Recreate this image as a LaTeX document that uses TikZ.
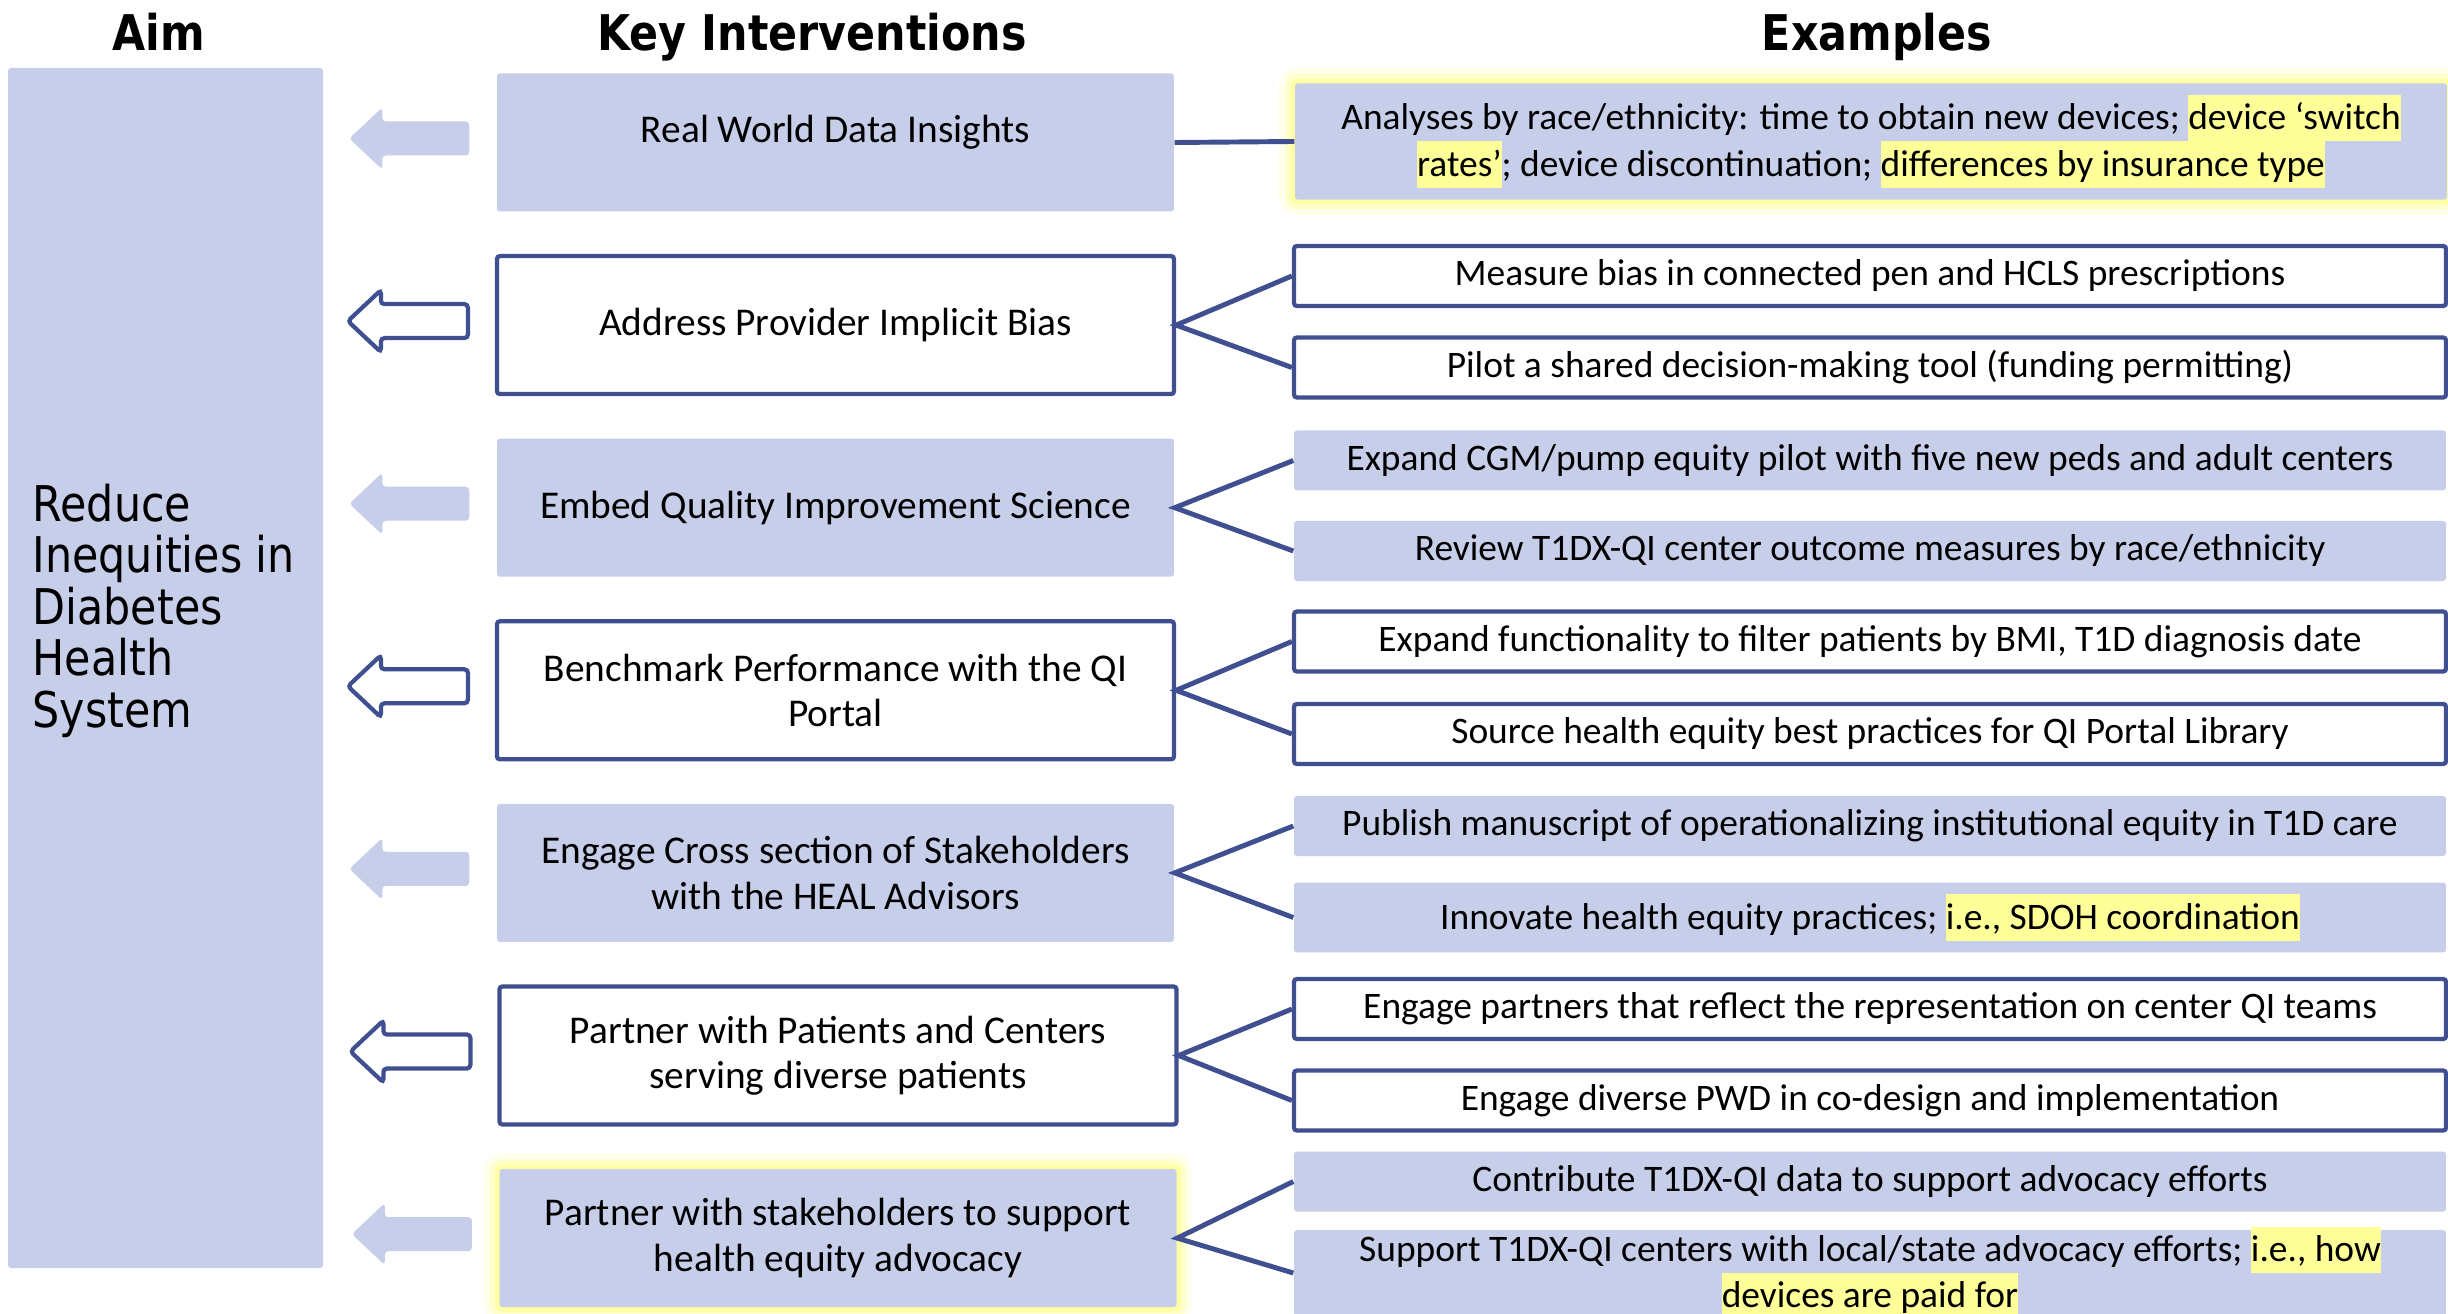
\documentclass[tikz,border=0pt]{standalone}
\usepackage{fontspec}
\setmainfont{Carlito}
\newfontfamily\titulofont[FakeStretch=0.87]{DejaVu Sans}
\newfontfamily\metafont[FakeStretch=0.87]{DejaVu Sans}
\usetikzlibrary{positioning,calc}
\definecolor{lavanda}{HTML}{C7CEEA}
\definecolor{azulmarino}{HTML}{3F4F8F}
\definecolor{amarillo}{HTML}{FFFF99}
% resaltado de texto, alto de una linea
\newcommand{\resaltar}[1]{{\setlength{\fboxsep}{0pt}\colorbox{amarillo}{\rule[-3.3pt]{0pt}{13.2pt}#1}}}

\begin{document}
\begin{tikzpicture}[
  titulo/.style={font=\titulofont\bfseries\fontsize{14}{16}\selectfont,anchor=base},
  caja/.style={align=center,rounded corners=0.8pt},
  interv/.style={caja,minimum width=6.77cm,minimum height=1.38cm,font=\fontsize{11.2}{12.9}\selectfont},
  ejemplo/.style={caja,minimum width=11.52cm,minimum height=0.6cm,font=\fontsize{10.65}{13.2}\selectfont},
  lleno/.style={fill=lavanda},
  marco/.style={draw=azulmarino,line width=1.2pt,fill=white},
  brillo/.style={preaction={draw=amarillo,line width=9pt,opacity=.2},
    preaction={draw=amarillo,line width=5.5pt,opacity=.4},
    preaction={draw=amarillo,line width=2.5pt,opacity=.8}},
  flechallena/.style={fill=lavanda,rounded corners=1pt},
  flechamarco/.style={draw=azulmarino,line width=1.2pt,fill=white,rounded corners=1pt},
  enlace/.style={draw=azulmarino,line width=1.4pt}]
  \useasboundingbox (0,0) rectangle (24.48,-13.14);

  % encabezados
  \node[titulo] (tmeta) at (1.59,-0.51) {Aim};
  \node[titulo] (tint) at (8.12,-0.51) {Key Interventions};
  \node[titulo] (tej) at (18.77,-0.51) {Examples};

  % columna del objetivo
  \node[fill=lavanda,rounded corners=0.8pt,minimum width=3.15cm,minimum height=12cm] (meta) at (1.655,-6.68) {};
  \node[anchor=north west,inner sep=0pt,align=left,font=\metafont\fontsize{14}{14.65}\selectfont] (metatexto) at (0.32,-4.83)
    {Reduce\\Inequities in\\Diabetes\\Health\\System};

  % intervenciones
  \node[interv,lleno,text depth=8pt] (int1) at (8.355,-1.425) {Real World Data Insights};
  \node[interv,marco] (int2) at (8.355,-3.251) {Address Provider Implicit Bias};
  \node[interv,lleno] (int3) at (8.355,-5.077) {Embed Quality Improvement Science};
  \node[interv,marco] (int4) at (8.355,-6.903) {Benchmark Performance with the QI\\Portal};
  \node[interv,lleno] (int5) at (8.355,-8.729) {Engage Cross section of Stakeholders\\with the HEAL Advisors};
  \node[interv,marco] (int6) at (8.38,-10.555) {Partner with Patients and Centers\\serving diverse patients};
  \node[interv,lleno,brillo] (int7) at (8.38,-12.381) {Partner with stakeholders to support\\health equity advocacy};

  % ejemplos
  \node[ejemplo,lleno,brillo,minimum height=1.13cm] (ej1) at (18.71,-1.415)
    {Analyses by race/ethnicity: time to obtain new devices; \resaltar{device ‘switch}\\\resaltar{rates’}; device discontinuation; \resaltar{differences by insurance type}};
  \node[ejemplo,marco] (ej2a) at (18.70,-2.76) {Measure bias in connected pen and HCLS prescriptions};
  \node[ejemplo,marco] (ej2b) at (18.70,-3.675) {Pilot a shared decision-making tool (funding permitting)};
  \node[ejemplo,lleno] (ej3a) at (18.70,-4.605) {Expand CGM/pump equity pilot with five new peds and adult centers};
  \node[ejemplo,lleno] (ej3b) at (18.70,-5.51) {Review T1DX-QI center outcome measures by race/ethnicity};
  \node[ejemplo,marco] (ej4a) at (18.70,-6.415) {Expand functionality to filter patients by BMI, T1D diagnosis date};
  \node[ejemplo,marco] (ej4b) at (18.70,-7.34) {Source health equity best practices for QI Portal Library};
  \node[ejemplo,lleno] (ej5a) at (18.70,-8.26) {Publish manuscript of operationalizing institutional equity in T1D care};
  \node[ejemplo,lleno] (ej5b) at (18.70,-9.175) {Innovate health equity practices; \resaltar{i.e., SDOH coordination}};
  \node[ejemplo,marco] (ej6a) at (18.70,-10.09) {Engage partners that reflect the representation on center QI teams};
  \node[ejemplo,marco] (ej6b) at (18.70,-11.005) {Engage diverse PWD in co-design and implementation};
  \node[ejemplo,lleno] (ej7a) at (18.70,-11.815) {Contribute T1DX-QI data to support advocacy efforts};
  \node[ejemplo,lleno,inner ysep=-1pt] (ej7b) at (18.70,-12.73)
    {Support T1DX-QI centers with local/state advocacy efforts; \resaltar{i.e., how}\\\resaltar{devices are paid for}};

  % flechas hacia el objetivo
  \foreach \k/\estilo in {1/flechallena,2/flechamarco,3/flechallena,4/flechamarco,5/flechallena,6/flechamarco,7/flechallena}
    \path[\estilo] ($(int\k.west)+(-0.27,0.21)$) -- ++(-0.87,0) -- ++(0,0.14) -- ++(-0.33,-0.31)
      -- ++(0.33,-0.31) -- ++(0,0.14) -- ++(0.87,0) -- cycle;

  % enlaces
  \draw[enlace] (int1.east) -- (ej1.west);
  \foreach \k in {2,...,7}
    \draw[enlace] (ej\k a.west) -- (int\k.east) -- (ej\k b.west);
\end{tikzpicture}
\end{document}
